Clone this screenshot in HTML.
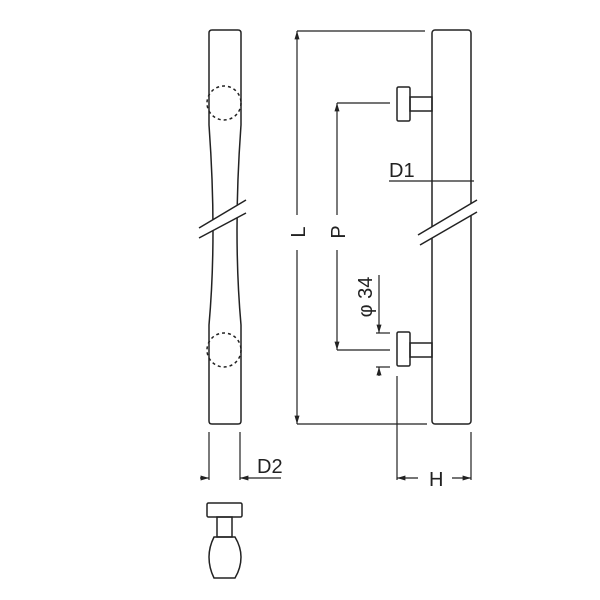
<!DOCTYPE html><html><head><style>body{margin:0;background:#fff}svg{display:block}text{font-family:"Liberation Sans",sans-serif;font-size:20px;fill:#222;stroke:none}</style></head><body>
<svg width="600" height="600" viewBox="0 0 600 600" stroke="#222" stroke-width="1.5" fill="none">
<defs><marker id="a" viewBox="0 0 10 10" refX="10" refY="5" markerWidth="7" markerHeight="7" orient="auto-start-reverse"><path d="M0,2L10,5L0,8z" fill="#222" stroke="none"/></marker></defs>
<path d="M212,30 L238,30 Q241,30 241,33 L241,125 Q237,180 237,230 Q237,280 241,325 L241,421 Q241,424 238,424 L212,424 Q209,424 209,421 L209,325 Q213,280 213,230 Q213,180 209,125 L209,33 Q209,30 212,30Z"/>
<circle cx="224" cy="103" r="17" stroke-dasharray="3,3"/>
<circle cx="224" cy="350" r="17" stroke-dasharray="3,3"/>
<polygon points="199,228 246,200 246,213 199,238" fill="#fff" stroke="none"/>
<line x1="199" y1="228" x2="246" y2="200"/><line x1="199" y1="238" x2="246" y2="213"/>
<rect x="432" y="30" width="39" height="394" rx="3"/>
<polygon points="418,235 477,200 477,212 420,245" fill="#fff" stroke="none"/>
<line x1="418" y1="235" x2="477" y2="200"/><line x1="420" y1="245" x2="477" y2="212"/>
<rect x="397" y="87" width="13" height="34" rx="1.5"/><rect x="410" y="97" width="22" height="14"/>
<rect x="397" y="332" width="13" height="34" rx="1.5"/><rect x="410" y="343" width="22" height="14"/>
<g stroke-width="1.2">
<line x1="297" y1="31" x2="425" y2="31"/><line x1="297" y1="424" x2="427" y2="424"/>
<line x1="297" y1="215" x2="297" y2="31" marker-end="url(#a)"/>
<line x1="297" y1="250" x2="297" y2="424" marker-end="url(#a)"/>
<line x1="337" y1="103" x2="390" y2="103"/><line x1="337" y1="350" x2="390" y2="350"/>
<line x1="337" y1="215" x2="337" y2="103" marker-end="url(#a)"/>
<line x1="337" y1="250" x2="337" y2="350" marker-end="url(#a)"/>
<line x1="376" y1="333" x2="390" y2="333"/><line x1="376" y1="367" x2="390" y2="367"/>
<line x1="379" y1="275" x2="379" y2="333" marker-end="url(#a)"/>
<line x1="379" y1="376" x2="379" y2="367" marker-end="url(#a)"/>
<line x1="389" y1="181" x2="474" y2="181"/>
<line x1="209" y1="432" x2="209" y2="480"/><line x1="240" y1="432" x2="240" y2="480"/>
<line x1="200" y1="478" x2="209" y2="478" marker-end="url(#a)"/>
<line x1="281" y1="478" x2="240" y2="478" marker-end="url(#a)"/>
<line x1="397" y1="376" x2="397" y2="480"/><line x1="471" y1="432" x2="471" y2="480"/>
<line x1="418" y1="478" x2="397" y2="478" marker-end="url(#a)"/>
<line x1="452" y1="478" x2="471" y2="478" marker-end="url(#a)"/>
</g>
<text transform="translate(305,232) rotate(-90)" text-anchor="middle">L</text>
<text transform="translate(345,232) rotate(-90)" text-anchor="middle">P</text>
<text transform="translate(372,297) rotate(-90)" text-anchor="middle">φ 34</text>
<text x="389" y="177">D1</text>
<text x="257" y="473">D2</text>
<text x="429" y="486">H</text>
<rect x="207" y="503" width="35" height="14" rx="1.5"/>
<rect x="217" y="517" width="15" height="20"/>
<path d="M214,537 L235,537 Q241,547 241,557 Q241,568 235,578 L214,578 Q209,568 209,557 Q209,547 214,537Z"/>
</svg></body></html>
